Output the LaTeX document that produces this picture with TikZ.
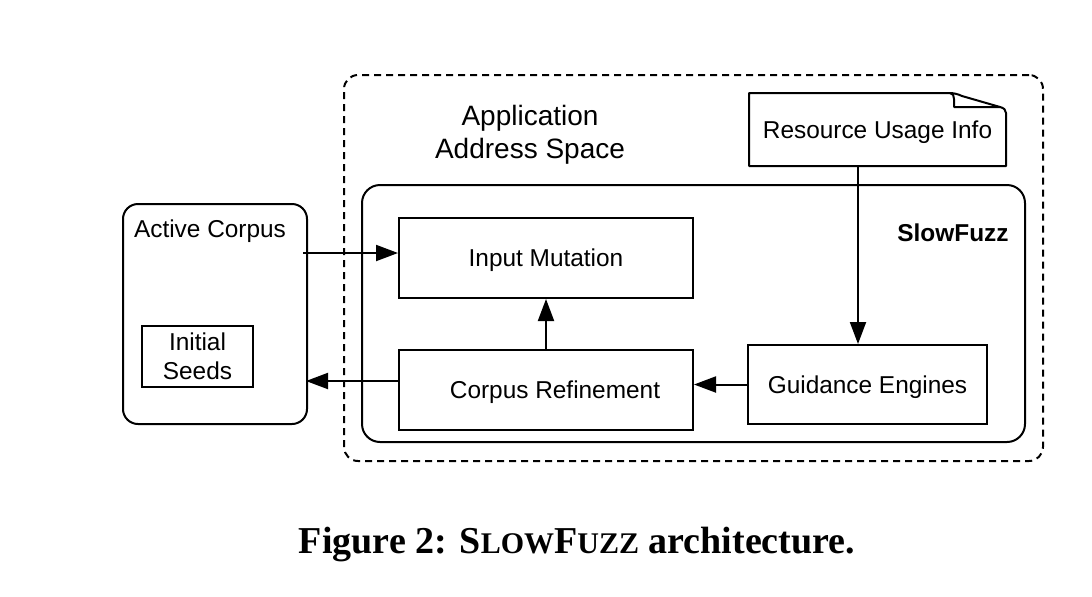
\documentclass[tikz,border=0pt]{standalone}
\usepackage{fontspec}
\setmainfont{Liberation Serif}
\setsansfont{Liberation Sans}
\usetikzlibrary{arrows.meta,calc}
\tikzset{
  box/.style={draw, line width=1pt, rectangle, inner sep=0pt, text depth=0pt, font=\sffamily\fontsize{12.2}{14.6}\selectfont, align=center},
  rbox/.style={draw, line width=1pt, rectangle, inner sep=0pt},
  lbl/.style={inner sep=0pt, text depth=0pt, font=\sffamily\fontsize{12.2}{14.6}\selectfont, align=center},
  arr/.style={line width=1pt, -{Triangle[length=11pt,width=8pt]}},
}
\begin{document}
\begin{tikzpicture}[x=0.5pt,y=-0.5pt]
\useasboundingbox (0,0) rectangle (1092,596);
% outer dashed region
\node[rbox, dashed, dash pattern=on 3.5pt off 2.5pt, rounded corners=7pt, minimum width=349.5pt, minimum height=193pt] (app) at (693.5,268) {};
\node[lbl, font=\sffamily\fontsize{14}{16.5}\selectfont] (applbl) at (530,132) {Application\\Address Space};
% SlowFuzz region
\node[rbox, rounded corners=9pt, minimum width=331.5pt, minimum height=128.5pt] (sf) at (693.5,313.5) {};
\node[lbl, font=\sffamily\bfseries\fontsize{12.2}{14.6}\selectfont] (sflbl) at (953,233) {SlowFuzz};
% active corpus
\node[rbox, rounded corners=7.5pt, minimum width=92pt, minimum height=110pt] (ac) at (215,314) {};
\node[lbl] (aclbl) at (210,229) {Active Corpus};
\node[box, minimum width=55.5pt, minimum height=30.5pt] (is) at (197.5,356.5) {Initial\\Seeds};
% inner boxes
\node[box, minimum width=147pt, minimum height=40pt] (im) at (546,258) {Input Mutation};
\node[box, minimum width=147pt, minimum height=40pt] (cr) at (546,390) {\hspace*{9pt}Corpus Refinement};
\node[box, minimum width=119.5pt, minimum height=39.5pt] (ge) at (867.5,384.5) {Guidance Engines};
% resource usage info (document)
\node[lbl, minimum width=128.5pt, minimum height=36.5pt] (rui) at (877.5,129.5) {Resource Usage Info};
\draw[line width=1pt, line join=round]
  (749,93) -- (950,93) .. controls (953,93) and (958,94) .. (962,96)
  -- (1000,107) .. controls (1004,108) and (1006,110) .. (1006,113)
  -- (1006,166) -- (749,166) -- cycle;
\draw[line width=1pt, line join=round]
  (950,93) .. controls (953,93) and (954,96) .. (954,99) -- (954,107) -- (1000,107);
% connectors
\coordinate (acout) at (303,253);
\coordinate (acin) at (306,381);
\draw[arr] (acout) -- (acout -| im.west);
\draw[arr] (acin -| cr.west) -- (acin);
\draw[arr] (cr.north) -- (im.south);
\draw[arr] (ge.west) -- (ge.west -| cr.east);
\draw[arr] (rui.south -| 858,0) -- (ge.north -| 858,0);
% caption
\node[inner sep=0pt, font=\bfseries\fontsize{19}{22}\selectfont] (cap) at (577,544)
  {Figure 2: S{\fontsize{15}{18}\selectfont LOW}F{\fontsize{15}{18}\selectfont UZZ} architecture.};
\end{tikzpicture}
\end{document}
